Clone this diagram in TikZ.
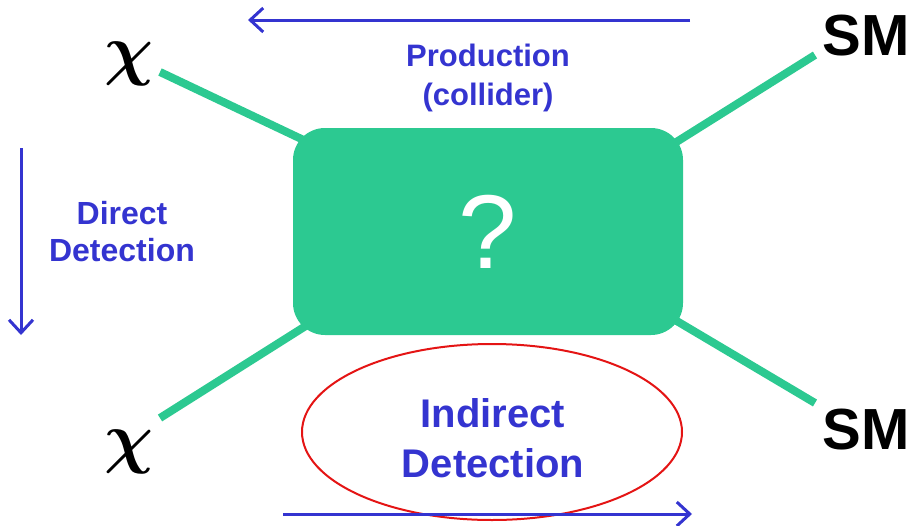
\documentclass[tikz,border=0pt]{standalone}
\usepackage{fontspec}
\setmainfont{Liberation Sans}
\usetikzlibrary{shapes.geometric,arrows.meta,backgrounds}
\definecolor{boxgreen}{RGB}{44,201,145}
\definecolor{labelblue}{RGB}{52,52,208}
\definecolor{ovalred}{RGB}{228,20,20}

\begin{document}
\begin{tikzpicture}[x=1pt,y=-1pt,
    leg/.style={draw=boxgreen,line width=8pt},
    flow/.style={draw=labelblue,line width=3pt,-{Straight Barb[length=13pt,width=24pt,line width=3pt]}},
    lbl/.style={text=labelblue,align=center,font=\bfseries\fontsize{31}{39}\selectfont},
    particle/.style={font=\bfseries\fontsize{58}{60}\selectfont},
    chi/.style={font=\boldmath\Huge,scale=2.75}]
  \useasboundingbox (0,0) rectangle (913,525);
  % the unknown interaction
  \node[fill=boxgreen,rounded corners=32pt,minimum width=390pt,minimum height=207pt,
        text=white,font=\fontsize{105}{105}\selectfont] (box) at (488,231.5) {?};
  % particles
  \node[chi] (chitop) at (129,64) {$\chi$};
  \node[chi] (chibot) at (129,452) {$\chi$};
  \node[particle] (smtop) at (866,36) {SM};
  \node[particle] (smbot) at (866,430) {SM};
  % legs into the box
  \coordinate (ltop) at (160,72);
  \coordinate (lbot) at (160,418);
  \coordinate (rtop) at (815,55);
  \coordinate (rbot) at (815,403);
  \coordinate (ltopin) at (312,144);
  \coordinate (lbotin) at (312,322);
  \coordinate (rtopin) at (670,146);
  \coordinate (rbotin) at (670,317);
  \begin{scope}[on background layer]
    \draw[leg] (ltop) -- (ltopin);
    \draw[leg] (lbot) -- (lbotin);
    \draw[leg] (rtop) -- (rtopin);
    \draw[leg] (rbot) -- (rbotin);
  \end{scope}
  % labels
  \node[lbl] (prod) at (488,78) {Production\\(collider)};
  \node[lbl,font=\bfseries\fontsize{32}{37}\selectfont] (direct) at (122,232) {Direct\\Detection};
  \node[draw=ovalred,line width=2pt,ellipse,minimum width=380pt,minimum height=176pt] (oval) at (492,432) {};
  \node[lbl,font=\bfseries\fontsize{40}{50}\selectfont] (indirect) at (493,438) {Indirect\\Detection};
  % three arrows
  \coordinate (prodA) at (690,20);
  \coordinate (prodB) at (248,20);
  \coordinate (dirA) at (21,148);
  \coordinate (dirB) at (21,335);
  \coordinate (indA) at (283,514);
  \coordinate (indB) at (692,514);
  \draw[flow] (prodA) -- (prodB);
  \draw[flow] (dirA) -- (dirB);
  \draw[flow] (indA) -- (indB);
\end{tikzpicture}
\end{document}
